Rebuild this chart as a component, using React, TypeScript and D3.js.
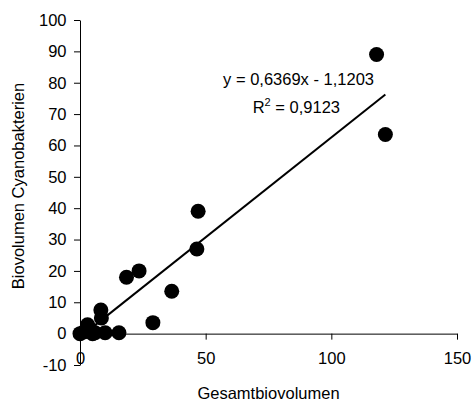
import React, { useEffect, useRef } from "react";
import * as d3 from "d3";

// Gesamtbiovolumen vs. Biovolumen Cyanobakterien
const gesamt = [0, 1.5, 3, 4, 5, 6, 8.3, 8.5, 10, 15.5, 18.5, 23.5, 29, 36.5, 46.5, 47, 118, 121.5];
const cyano = [0, 0.5, 2.8, 1.5, 0, 0.3, 7.5, 5, 0.3, 0.3, 18, 20, 3.5, 13.5, 27, 39, 89, 63.5];

const slope = 0.6369;
const intercept = -1.1203;
const xTicks = [0, 50, 100, 150];
const yTicks = [-10, 0, 10, 20, 30, 40, 50, 60, 70, 80, 90, 100];

const FONT = "Arial, 'Liberation Sans', sans-serif";
const FS = "16.5px";

export default function App() {
  const ref = useRef<SVGSVGElement>(null);

  useEffect(() => {
    const svg = d3.select(ref.current);
    svg.selectAll("*").remove();

    const x = d3.scaleLinear().domain([0, 150]).range([80, 457]);
    const y = d3.scaleLinear().domain([-10, 100]).range([365, 20]);

    // y axis
    const yAxis = svg.append("g")
      .attr("transform", `translate(${x(0)},0)`)
      .call(d3.axisLeft(y).tickValues(yTicks).tickFormat(d => String(d))
        .tickSize(6).tickPadding(7.5).tickSizeOuter(0));

    // x axis at y = 0
    const xAxis = svg.append("g")
      .attr("transform", `translate(0,${y(0)})`)
      .call(d3.axisBottom(x).tickValues(xTicks).tickFormat(d => String(d))
        .tickSize(6).tickPadding(13).tickSizeOuter(0));

    [yAxis, xAxis].forEach(g => {
      g.selectAll("path, line").attr("stroke", "#000").attr("stroke-width", 1);
      g.selectAll("text")
        .attr("fill", "#000")
        .style("font-family", FONT)
        .style("font-size", FS);
    });

    // points
    svg.append("g")
      .selectAll("circle")
      .data(gesamt.map((g, i) => [g, cyano[i]]))
      .enter()
      .append("circle")
      .attr("cx", d => x(d[0]))
      .attr("cy", d => y(d[1]))
      .attr("r", 7.5)
      .attr("fill", "#000");

    // trendline
    const xMax = d3.max(gesamt) as number;
    svg.append("line")
      .attr("x1", x(0))
      .attr("y1", y(intercept))
      .attr("x2", x(xMax))
      .attr("y2", y(slope * xMax + intercept))
      .attr("stroke", "#000")
      .attr("stroke-width", 2);

    // equation
    svg.append("text")
      .attr("x", 374)
      .attr("y", 85)
      .attr("text-anchor", "end")
      .style("font-family", FONT)
      .style("font-size", FS)
      .text("y = 0,6369x - 1,1203");

    const r2 = svg.append("text")
      .attr("x", 340)
      .attr("y", 112.5)
      .attr("text-anchor", "end")
      .style("font-family", FONT)
      .style("font-size", FS);
    r2.append("tspan").text("R");
    r2.append("tspan").attr("dy", -7).style("font-size", "11px").text("2");
    r2.append("tspan").attr("dy", 7).text(" = 0,9123");

    // axis titles
    svg.append("text")
      .attr("x", (x(0) + x(150)) / 2)
      .attr("y", 399)
      .attr("text-anchor", "middle")
      .style("font-family", FONT)
      .style("font-size", FS)
      .text("Gesamtbiovolumen");

    svg.append("text")
      .attr("transform", `translate(24,186) rotate(-90)`)
      .attr("text-anchor", "middle")
      .style("font-family", FONT)
      .style("font-size", FS)
      .text("Biovolumen Cyanobakterien");
  }, []);

  return (
    <div style={{ position: "absolute", left: 0, top: 0 }}>
      <svg ref={ref} width={473} height={404} style={{ display: "block", background: "#fff" }} />
    </div>
  );
}
